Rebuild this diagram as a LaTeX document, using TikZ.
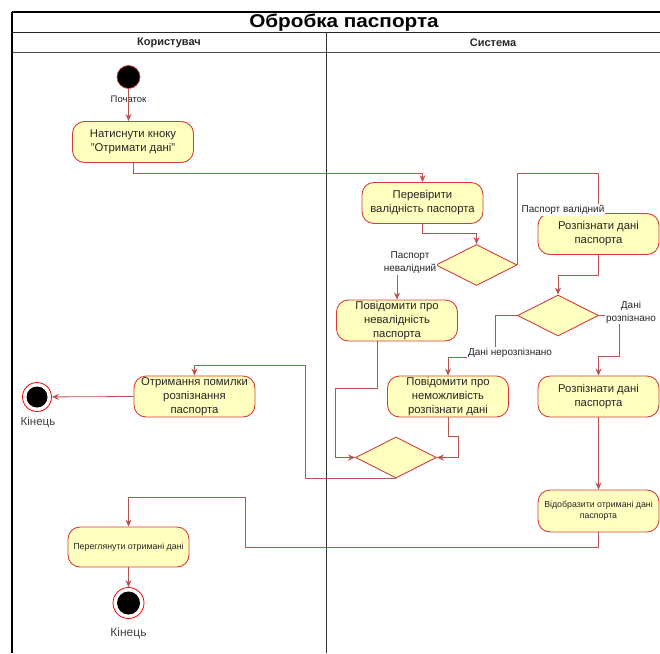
\documentclass[tikz,border=0pt]{standalone}
\usepackage{fontspec}
\setmainfont{Liberation Sans}
\newfontfamily\titlefont{Liberation Sans}[FakeStretch=1.12]
\usetikzlibrary{shapes.geometric,arrows.meta}

\definecolor{actfill}{RGB}{255,255,192}
\definecolor{actline}{RGB}{214,60,60}
\definecolor{flowline}{RGB}{184,84,80}

\tikzset{
  act/.style={draw=actline, fill=actfill, line width=0.9pt, rounded corners=12pt,
    minimum width=121pt, minimum height=41pt, inner sep=0pt, align=center,
    text=black!85, font=\fontsize{11.3}{14}\selectfont},
  actsmall/.style={act, font=\fontsize{8.8}{11}\selectfont},
  decision/.style={draw=actline, fill=actfill, line width=0.9pt, shape=diamond,
    aspect=2, minimum width=81pt, minimum height=41pt, inner sep=0pt},
  flow/.style={draw=flowline, line width=0.8pt, -{Stealth[length=7pt,width=6pt]}},
  guard/.style={fill=white, inner sep=1pt, align=center, text=black!85,
    font=\fontsize{10}{13}\selectfont},
  startdot/.style={circle, fill=black, draw=actline, line width=0.7pt,
    minimum size=23pt, inner sep=0pt},
  endring/.style={circle, fill=white, draw=red, line width=0.8pt,
    minimum size=29pt, inner sep=0pt},
  caption/.style={font=\fontsize{11.5}{13}\selectfont, text=black!75},
  lanehead/.style={font=\bfseries\fontsize{11}{12}\selectfont, text=black!85},
}

\begin{document}
\begin{tikzpicture}[x=1pt, y=-1pt]
\useasboundingbox (0,0) rectangle (660,653);

% pool and lanes
\draw[line width=1.4pt] (12,12) -- (660,12);
\draw[line width=0.9pt, black!85] (12,32) -- (660,32);
\draw[line width=0.9pt, black!70] (12,52) -- (660,52);
\draw[line width=1.4pt] (12,12) -- (12,653);
\draw[line width=0.9pt, black!80] (326,32) -- (326,653);
\node[font=\titlefont\bfseries\fontsize{18.5}{20}\selectfont, inner sep=0pt] (title) at (344,23) {Обробка паспорта};
\node[lanehead] (laneuser) at (169,42.5) {Користувач};
\node[lanehead] (lanesys) at (493,42.5) {Система};

% activities
\node[startdot] (s) at (128.5,77) {};
\node[font=\fontsize{9.5}{11}\selectfont, text=black!85] (slabel) at (128.5,99) {Початок};
\node[act] (b1) at (133,142) {Натиснути кноку\\"Отримати дані"};
\node[act] (b2) at (422.5,203) {Перевірити\\валідність паспорта};
\node[decision] (d1) at (476.5,265) {};
\node[act] (b3) at (598.5,234) {Розпізнати дані\\паспорта};
\node[act] (b4) at (397,320.5) {Повідомити про\\невалідність\\паспорта};
\node[decision] (d2) at (558,315.5) {};
\node[act] (b6) at (448,396.5) {Повідомити про\\неможливість\\розпізнати дані};
\node[act] (b5) at (598.5,396.5) {Розпізнати дані\\паспорта};
\node[decision] (d3) at (396,457.5) {};
\node[act] (b7) at (194.5,396.5) {Отримання помилки\\розпізнання\\паспорта};
\node[endring] (e1) at (37,397) {};
\fill (e1.center) circle (10.5);
\node[caption] (e1label) at (38,422) {Кінець};
\node[actsmall, minimum height=42pt] (b8) at (598.5,511) {Відобразити отримані дані\\паспорта};
\node[actsmall, minimum height=40pt] (b9) at (128.5,547) {Переглянути отримані дані};
\node[endring, minimum size=31pt] (e2) at (128.5,603) {};
\fill (e2.center) circle (11.5);
\node[caption, font=\fontsize{12}{13}\selectfont] (e2label) at (128.5,633) {Кінець};

% control flows
\draw[flow] (s.south) -- (s.south |- b1.north);
\draw[flow] (b1.south) -- ++(0,10) -| (b2.north);
\draw[flow] (b2.south) -- ++(0,9) -| (d1.north);
\draw[flow] (d1.east) -- ++(0,-92) -| (b3.north);
\draw[flow] (d1.west) -| (b4.north);
\draw[flow] (b3.south) -- ++(0,20.5) -| (d2.north);
\draw[flow] (d2.east) -- ++(20,0) -- ++(0,40.5) -| (b5.north);
\draw[flow] (d2.west) -- ++(-22,0) -- ++(0,41.5) -| (b6.north);
\draw[flow] ([xshift=-20pt]b4.south) -- ++(0,47) -- ++(-42,0) |- (d3.west);
\draw[flow] (b6.south) -- ++(0,18.5) -- ++(10,0) |- (d3.east);
\draw[flow] (d3.south) -- ++(-91,0) -- ++(0,-113) -| (b7.north);
\draw[flow] (b7.west) -- (e1);
\draw[flow] (b5.south) -- (b8.north);
\draw[flow] (b8.south) -- ++(0,15) -- ++(-353.5,0) -- ++(0,-50) -| (b9.north);
\draw[flow] (b9.south) -- (e2);

% guard labels
\node[guard] (g1) at (563,210) {Паспорт валідний};
\node[guard] (g2) at (410,263) {Паспорт\\невалідний};
\node[guard] (g3) at (631,312) {Дані\\розпізнано};
\node[guard] (g4) at (510,353) {Дані нерозпізнано};
\end{tikzpicture}
\end{document}
